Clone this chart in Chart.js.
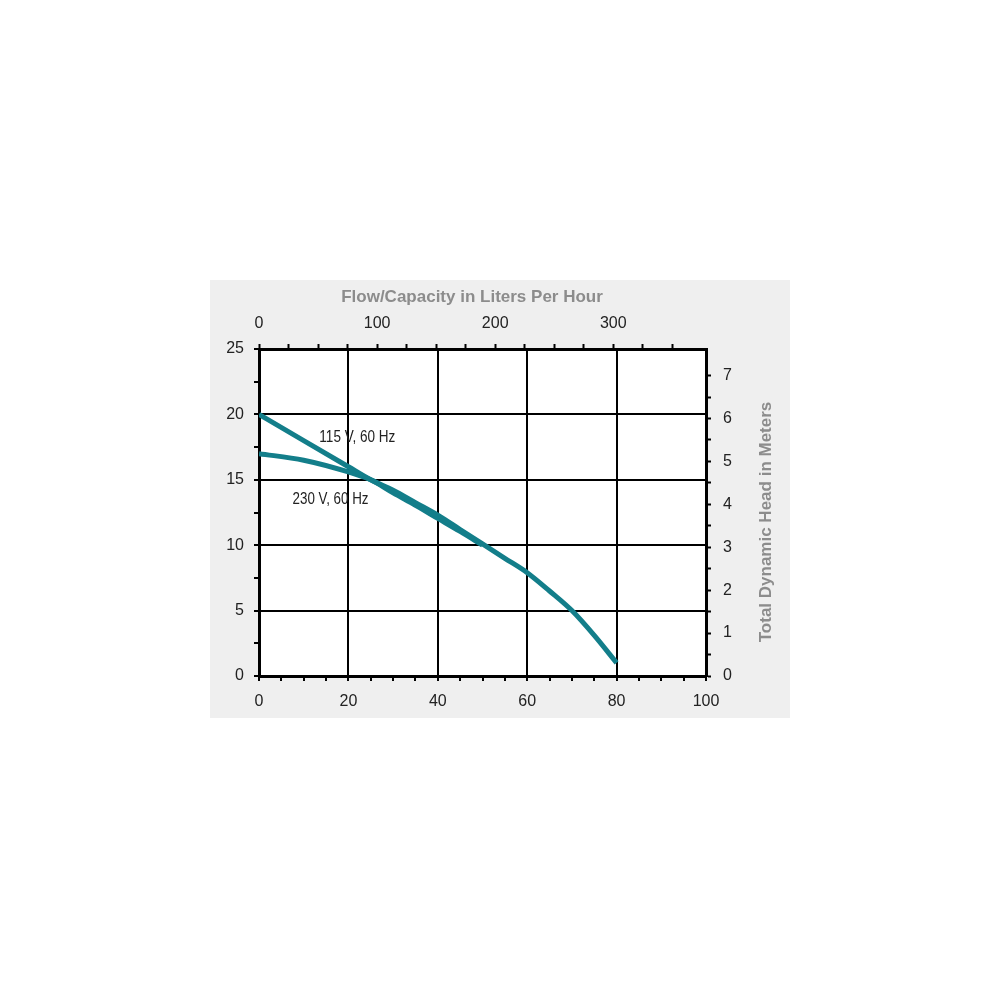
<!DOCTYPE html>
<html>
<head>
<meta charset="utf-8">
<script src="https://cdn.jsdelivr.net/npm/chart.js@4"></script>
<style>
  body { margin: 0; background: #fff; }
  #panel { position: absolute; left: 210px; top: 280px; width: 580px; height: 438px; }
</style>
</head>
<body>
<div id="panel"><canvas id="pumpChart" width="580" height="438"></canvas></div>
<script>
// flow in gallons per hour (bottom axis), head in feet (left axis)
const flow115 = [0, 10, 20, 25, 30, 35, 40, 45, 50, 55, 60, 65, 70, 75, 80];
const head115 = [20, 18, 16, 15, 14.2, 13.25, 12.3, 11.2, 10.1, 9.0, 7.9, 6.5, 5.0, 3.1, 1.0];
const flow230 = [0, 10, 20, 25, 30, 35, 40, 45, 50];
const head230 = [17, 16.5, 15.6, 15.0, 14.0, 13.05, 12.05, 11.05, 10.0];
const seriesNames = ['115 V, 60 Hz', '230 V, 60 Hz'];

const LPH_PER_GPH = 3.785;
const M_PER_FT = 1 / 3.281;

const tickFont = { family: 'Liberation Sans', size: 16 };
const titleFont = 'bold 17px "Liberation Sans"';
const labelFont = '16px "Liberation Sans"';

function toPoints(xs, ys) {
    return xs.map((x, i) => ({ x: x, y: ys[i] }));
}

const panelPlugin = {
    id: 'panel',
    beforeDraw(chart) {
        const { ctx, chartArea: a } = chart;
        ctx.save();
        ctx.fillStyle = '#efefef';
        ctx.fillRect(0, 0, chart.width, chart.height);
        ctx.fillStyle = '#fff';
        ctx.fillRect(a.left, a.top, a.right - a.left, a.bottom - a.top);
        ctx.restore();
    },
    afterDraw(chart) {
        const { ctx } = chart;
        const sx = chart.scales.x, sy = chart.scales.y;
        ctx.save();
        ctx.fillStyle = '#8c8c8c';
        ctx.font = titleFont;
        ctx.textAlign = 'center';
        ctx.textBaseline = 'middle';
        ctx.fillText('Flow/Capacity in Liters Per Hour', 262, 17);
        ctx.translate(556, 242);
        ctx.rotate(-Math.PI / 2);
        ctx.fillText('Total Dynamic Head in Meters', 0, 0);
        ctx.restore();

        // curve labels, squeezed to the narrow face of the original
        const spots = [[22, 18.2], [16, 13.5]];
        ctx.save();
        ctx.fillStyle = '#222';
        ctx.font = labelFont;
        ctx.textAlign = 'center';
        ctx.textBaseline = 'middle';
        seriesNames.forEach((name, i) => {
            ctx.fillText(name, sx.getPixelForValue(spots[i][0]), sy.getPixelForValue(spots[i][1]), 76);
        });
        ctx.restore();
    }
};

const lineStyle = {
    borderColor: '#137e8a',
    borderWidth: 5,
    pointRadius: 0,
    fill: false,
    cubicInterpolationMode: 'monotone'
};

new Chart(document.getElementById('pumpChart'), {
    type: 'line',
    data: {
        datasets: [
            Object.assign({ label: seriesNames[0], data: toPoints(flow115, head115) }, lineStyle),
            Object.assign({ label: seriesNames[1], data: toPoints(flow230, head230) }, lineStyle)
        ]
    },
    options: {
        responsive: false,
        animation: false,
        layout: { padding: 0 },
        plugins: { legend: { display: false }, tooltip: { enabled: false } },
        scales: {
            x: {
                type: 'linear', position: 'bottom', min: 0, max: 100,
                afterFit: s => { s.height = 42; },
                ticks: {
                    stepSize: 5, autoSkip: false, maxRotation: 0, padding: 11, color: '#222', font: tickFont,
                    callback: v => v % 20 === 0 ? v : ''
                },
                grid: {
                    color: c => c.tick && c.tick.value % 20 === 0 ? '#000' : 'rgba(0,0,0,0)',
                    lineWidth: 2, tickLength: 5, tickColor: '#000', tickWidth: 2
                },
                border: { color: '#000', width: 3 }
            },
            x2: {
                type: 'linear', position: 'top', min: 0, max: 100 * LPH_PER_GPH,
                afterFit: s => { s.height = 69; },
                afterBuildTicks: s => { s.ticks = s.ticks.filter(t => t.value % 25 === 0); },
                ticks: {
                    stepSize: 25, autoSkip: false, maxRotation: 0, padding: 11, color: '#222', font: tickFont,
                    callback: v => v % 100 === 0 ? v : ''
                },
                grid: { drawOnChartArea: false, tickLength: 5, tickColor: '#000', tickWidth: 2 },
                border: { color: '#000', width: 3 }
            },
            y: {
                type: 'linear', position: 'left', min: 0, max: 25,
                afterFit: s => { s.width = 49; },
                ticks: {
                    stepSize: 2.5, autoSkip: false, padding: 10, color: '#222', font: tickFont,
                    callback: v => v % 5 === 0 ? v : ''
                },
                grid: {
                    color: c => c.tick && c.tick.value % 5 === 0 ? '#000' : 'rgba(0,0,0,0)',
                    lineWidth: 2, tickLength: 5, tickColor: '#000', tickWidth: 2
                },
                border: { color: '#000', width: 3 }
            },
            y2: {
                type: 'linear', position: 'right', min: 0, max: 25 * M_PER_FT,
                afterFit: s => { s.width = 84; },
                afterBuildTicks: s => { s.ticks = s.ticks.filter(t => Math.abs(t.value * 2 - Math.round(t.value * 2)) < 1e-6); },
                ticks: {
                    stepSize: 0.5, autoSkip: false, padding: 12, color: '#222', font: tickFont,
                    callback: v => Number.isInteger(v) ? v : ''
                },
                grid: { drawOnChartArea: false, tickLength: 5, tickColor: '#000', tickWidth: 2 },
                border: { color: '#000', width: 3 }
            }
        }
    },
    plugins: [panelPlugin]
});
</script>
</body>
</html>
